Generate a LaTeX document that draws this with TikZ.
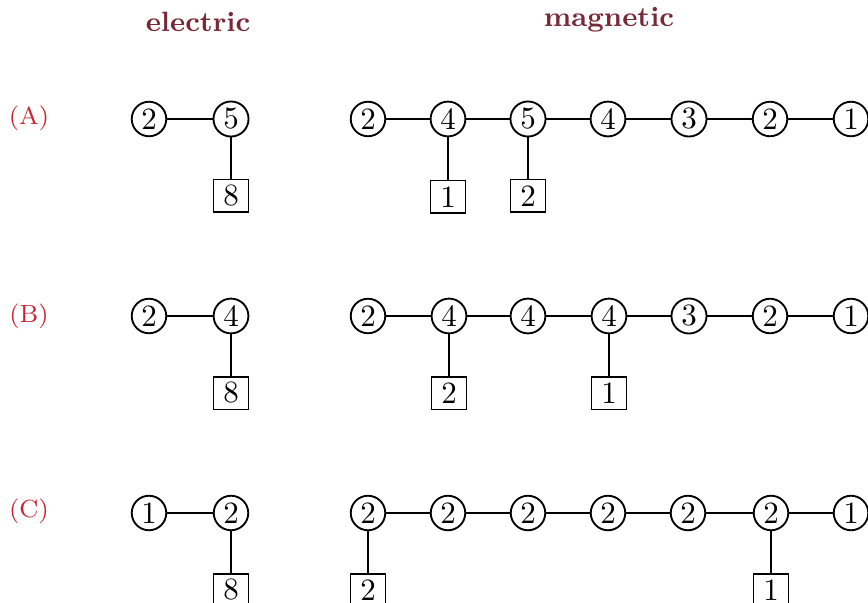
\documentclass[tikz,border=0pt]{standalone}
\usepackage{amsmath}
\usepackage{tikz}
\usepackage{xcolor}
\usetikzlibrary{positioning}
\definecolor{rowred}{RGB}{205,35,50}
\definecolor{headred}{RGB}{120,40,55}
\begin{document}
\begin{tikzpicture}[
            x=0.3226pt, y=-0.3226pt,
            line width=0.6pt,
            gauge/.style={circle, draw, inner sep=1pt},
            flav/.style={rectangle, draw, inner sep=0pt, minimum width=11.3pt, minimum height=10.6pt},
            rowlabel/.style={text=rowred, font=\footnotesize},
            header/.style={text=headred, font=\small\bfseries},
        ]
            \useasboundingbox (0,0) rectangle (868,603);

            % headers
            \node[header] (hel) at (198,22) {electric};
            \node[header] (hmag) at (609,20) {magnetic};

            % row labels
            \node[rowlabel] (la) at (29,118) {(A)};
            \node[rowlabel] (lb) at (29,316) {(B)};
            \node[rowlabel] (lc) at (29,511) {(C)};

            % (A) electric
            \node[gauge] (eA1) at (149,119) {2};
            \node[gauge] (eA2) at (231,119) {5};
            \node[flav] (eAf) at (231,196) {8};
            \draw (eA1) -- (eA2);
            \draw (eA2) -- (eAf);

            % (A) magnetic
            \node[gauge] (mA1) at (368,119) {2};
            \node[gauge] (mA2) at (448,119) {4};
            \node[gauge] (mA3) at (528,119) {5};
            \node[gauge] (mA4) at (608,119) {4};
            \node[gauge] (mA5) at (689,119) {3};
            \node[gauge] (mA6) at (770,119) {2};
            \node[gauge] (mA7) at (851,119) {1};
            \node[flav] (mAf1) at (448,197) {1};
            \node[flav] (mAf2) at (528,196) {2};
            \draw (mA1) -- (mA2) -- (mA3) -- (mA4) -- (mA5) -- (mA6) -- (mA7);
            \draw (mA2) -- (mAf1);
            \draw (mA3) -- (mAf2);

            % (B) electric
            \node[gauge] (eB1) at (149,316) {2};
            \node[gauge] (eB2) at (231,316) {4};
            \node[flav] (eBf) at (231,393) {8};
            \draw (eB1) -- (eB2);
            \draw (eB2) -- (eBf);

            % (B) magnetic
            \node[gauge] (mB1) at (368,316) {2};
            \node[gauge] (mB2) at (449,316) {4};
            \node[gauge] (mB3) at (528,316) {4};
            \node[gauge] (mB4) at (609,316) {4};
            \node[gauge] (mB5) at (689,316) {3};
            \node[gauge] (mB6) at (770,316) {2};
            \node[gauge] (mB7) at (851,316) {1};
            \node[flav] (mBf1) at (449,393) {2};
            \node[flav] (mBf2) at (609,393) {1};
            \draw (mB1) -- (mB2) -- (mB3) -- (mB4) -- (mB5) -- (mB6) -- (mB7);
            \draw (mB2) -- (mBf1);
            \draw (mB4) -- (mBf2);

            % (C) electric
            \node[gauge] (eC1) at (149,513) {1};
            \node[gauge] (eC2) at (231,513) {2};
            \node[flav] (eCf) at (231,590) {8};
            \draw (eC1) -- (eC2);
            \draw (eC2) -- (eCf);

            % (C) magnetic
            \node[gauge] (mC1) at (368,513) {2};
            \node[gauge] (mC2) at (448,513) {2};
            \node[gauge] (mC3) at (528,513) {2};
            \node[gauge] (mC4) at (608,513) {2};
            \node[gauge] (mC5) at (688,513) {2};
            \node[gauge] (mC6) at (771,513) {2};
            \node[gauge] (mC7) at (851,513) {1};
            \node[flav] (mCf1) at (368,590) {2};
            \node[flav] (mCf2) at (771,590) {1};
            \draw (mC1) -- (mC2) -- (mC3) -- (mC4) -- (mC5) -- (mC6) -- (mC7);
            \draw (mC1) -- (mCf1);
            \draw (mC6) -- (mCf2);
        \end{tikzpicture}
\end{document}
